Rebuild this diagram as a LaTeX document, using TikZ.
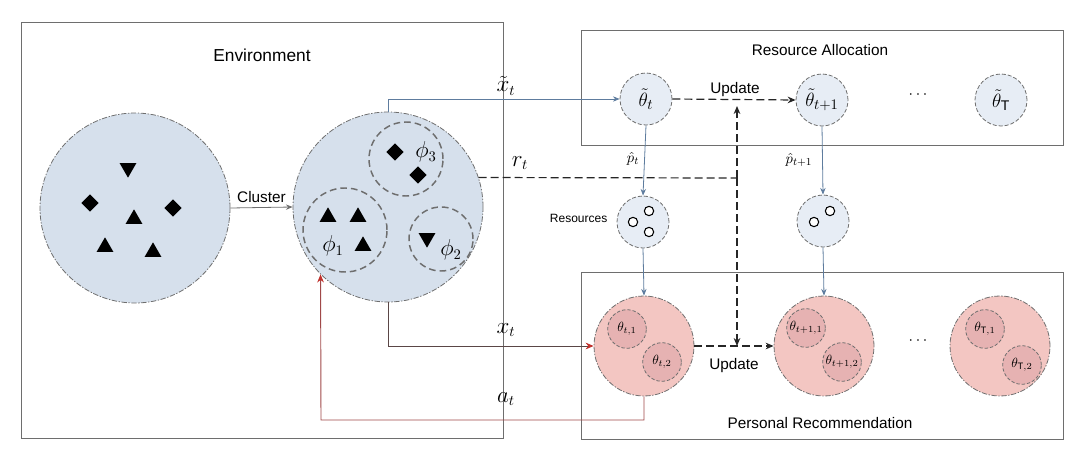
\documentclass[tikz,border=0pt]{standalone}
\usepackage{fontspec}
\setmainfont{Liberation Sans}
\usetikzlibrary{shapes.geometric,arrows.meta}
\definecolor{envblue}{HTML}{D6E0EC}
\definecolor{liteblue}{HTML}{E7EDF5}
\definecolor{pinkf}{HTML}{F3C6C2}
\definecolor{pinkin}{HTML}{E6B2B2}
\definecolor{bordg}{HTML}{6E6E6E}
\definecolor{conblue}{HTML}{5E7C9E}
\definecolor{conred}{HTML}{C0302B}
\definecolor{xline}{HTML}{5A4646}
\definecolor{aline}{HTML}{A04848}
\begin{document}
\begin{tikzpicture}[x=0.75pt,y=-0.75pt,
  box/.style={draw=bordg, line width=0.75pt},
  bigc/.style={circle, draw=bordg, line width=0.6pt, dash pattern=on 4pt off 1.2pt on 1pt off 1.2pt, fill=envblue, minimum size=142.5pt, inner sep=0pt},
  phic/.style={circle, draw=bordg, line width=1.1pt, dash pattern=on 5pt off 3pt, minimum size=#1, inner sep=0pt},
  smallc/.style={circle, draw=bordg, line width=0.6pt, dash pattern=on 3pt off 1.5pt, fill=liteblue, minimum size=39pt, inner sep=0pt},
  pinkc/.style={circle, draw=bordg, line width=0.6pt, dash pattern=on 4pt off 1.2pt on 1pt off 1.2pt, fill=pinkf, minimum size=75pt, inner sep=0pt},
  pinkinc/.style={circle, draw=bordg, line width=0.6pt, dash pattern=on 2.5pt off 1.5pt, fill=pinkin, minimum size=29pt, inner sep=0pt, font=\fontsize{10}{12}\selectfont},
  tri/.style={regular polygon, regular polygon sides=3, fill=black, inner sep=0pt, minimum size=14.5pt},
  dtri/.style={tri, shape border rotate=180},
  dia/.style={diamond, fill=black, inner sep=0pt, minimum width=13pt, minimum height=13pt},
  dot/.style={circle, draw=black, fill=white, line width=0.8pt, minimum size=7pt, inner sep=0pt},
  lbl/.style={font=\fontsize{11.5}{13}\selectfont},
  mlbl/.style={font=\fontsize{16}{18}\selectfont},
  clbl/.style={font=\fontsize{15}{17}\selectfont},
  bcon/.style={draw=conblue, line width=0.6pt, -{Stealth[length=5pt,width=4pt]}},
  dcon/.style={draw=black!85, line width=0.9pt, dash pattern=on 6pt off 3pt, -{Stealth[length=6pt,width=5pt]}}
]
\useasboundingbox (0,0) rectangle (1080,460);
% boxes
\node[box, minimum width=361.5pt, minimum height=311.25pt, inner sep=0pt] (env) at (262,230.5) {};
\node[box, minimum width=361.5pt, minimum height=85.5pt, inner sep=0pt] (ra) at (822,88) {};
\node[box, minimum width=361.5pt, minimum height=125.25pt, inner sep=0pt] (pr) at (822,355.5) {};
\node[font=\fontsize{13}{15}\selectfont] (envt) at (262,55) {Environment};
\node[lbl] (rat) at (820,50) {Resource Allocation};
\node[lbl] (prt) at (820,423) {Personal Recommendation};

% left circle
\node[bigc] (c1) at (135,208) {};
\node[dtri] (s1) at (128,168) {};
\node[dia] (s2) at (90,203) {};
\node[tri] (s3) at (134,219) {};
\node[dia] (s4) at (173,208) {};
\node[tri] (s5) at (105,247) {};
\node[tri] (s6) at (153,252) {};

% right circle
\node[bigc] (c2) at (388,207) {};
\node[phic=55.5pt] (ph3) at (406,159) {};
\node[phic=63pt] (ph1) at (345,230) {};
\node[phic=48pt] (ph2) at (441,239) {};
\node[dia] (d31) at (395,152) {};
\node[dia] (d32) at (418,175) {};
\node[mlbl] (l3) at (426,152) {$\phi_3$};
\node[tri] (t11) at (328,217) {};
\node[tri] (t12) at (358,217) {};
\node[tri] (t13) at (363,246) {};
\node[mlbl] (l1) at (333,246) {$\phi_1$};
\node[dtri] (t21) at (427,238) {};
\node[mlbl] (l2) at (451,250) {$\phi_2$};

\draw[draw=bordg, line width=0.6pt, -{Stealth[length=5pt,width=4pt]}] (c1.east) -- (c2.west) node[midway, above, lbl] (cl) {Cluster};

% resource allocation nodes
\node[smallc] (tt) at (646,99) {};
\node[clbl] (ttl) at (646,99) {$\tilde\theta_t$};
\node[smallc] (tt1) at (822,100) {};
\node[clbl] (tt1l) at (822,100) {$\tilde\theta_{t+1}$};
\node[smallc] (ttT) at (1001,100) {};
\node[clbl] (ttTl) at (1001,100) {$\tilde\theta_{\mathrm{T}}$};
\node[lbl] (dots1) at (918,95) {$\cdots$};

% resources
\node[smallc] (r1) at (643,222) {};
\node[dot] (r1a) at (649,211) {};
\node[dot] (r1b) at (633,222) {};
\node[dot] (r1c) at (649,232) {};
\node[font=\fontsize{9}{10}\selectfont, anchor=east] (rest) at (612,218) {Resources};
\node[smallc] (r2) at (823,221) {};
\node[dot] (r2a) at (814,222) {};
\node[dot] (r2b) at (830,211) {};

% pink circles
\node[pinkc] (p1) at (644,346) {};
\node[pinkinc] (p1a) at (627,329) {$\theta_{t,1}$};
\node[pinkinc] (p1b) at (662,362) {$\theta_{t,2}$};
\node[pinkc] (p2) at (824,346) {};
\node[pinkinc] (p2a) at (806,328) {$\theta_{t+1,1}$};
\node[pinkinc] (p2b) at (842,362) {$\theta_{t+1,2}$};
\node[pinkc] (p3) at (1000,346) {};
\node[pinkinc] (p3a) at (985,329) {$\theta_{\mathrm{T},1}$};
\node[pinkinc] (p3b) at (1022,365) {$\theta_{\mathrm{T},2}$};
\node[lbl] (dots2) at (918,341) {$\cdots$};

% connectors
\draw[bcon] (c2.north) |- (tt.west);
\node[mlbl] (xtl) at (506,86) {$\tilde x_t$};
\draw[bcon] (tt.south) -- (r1.north);
\node[font=\fontsize{11}{12}\selectfont] (pt) at (633,159) {$\hat p_t$};
\draw[bcon] (tt1.south) -- (r2.north);
\node[font=\fontsize{11}{12}\selectfont] (pt1) at (799,160) {$\hat p_{t+1}$};
\draw[bcon] (r1.south) -- (p1.north);
\draw[bcon] (r2.south) -- (p2.north);

\draw[dcon] (tt.east) -- (tt1.west);
\node[lbl] (up1) at (735,90) {Update};
\draw[dcon] (p1.east) -- (p2.west);
\node[lbl] (up2) at (734,366) {Update};

\coordinate (j) at (737,178);
\coordinate (ju) at (737,106);
\coordinate (jd) at (737,346);
\draw[draw=black!85, line width=0.9pt, dash pattern=on 6pt off 3pt] (c2.18) -- (j);
\draw[dcon] (j) -- (ju);
\draw[dcon] (j) -- (jd);
\node[mlbl] (rtl) at (520,163) {$r_t$};

\draw[draw=xline, line width=0.7pt, -{Stealth[length=6pt,width=5pt,color=conred]}] (c2.south) |- (p1.west);
\node[mlbl] (xl) at (506,330) {$x_t$};

\coordinate (ab) at (321,420);
\draw[draw=aline, line width=0.7pt, -{Stealth[length=6pt,width=5pt,color=conred]}] (p1.south) |- (ab) -- (c2.225);
\node[mlbl] (al) at (506,399) {$a_t$};
\end{tikzpicture}
\end{document}
